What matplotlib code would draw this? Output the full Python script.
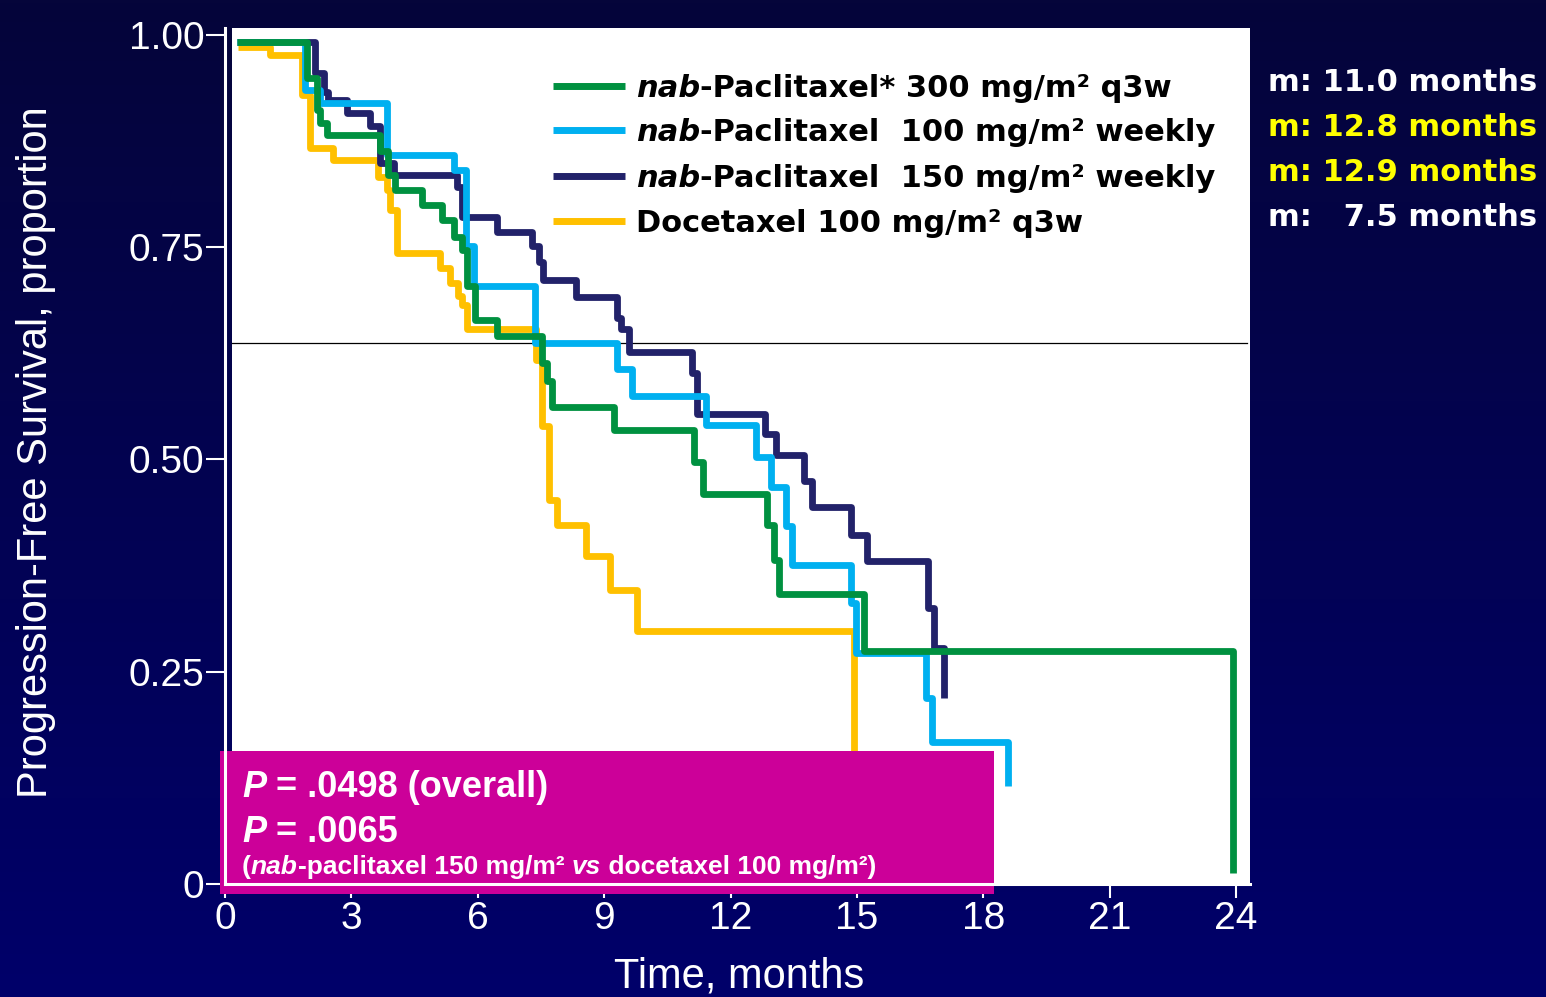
import matplotlib
matplotlib.use("Agg")
import matplotlib.pyplot as plt
import numpy as np
from matplotlib.patches import Rectangle
from matplotlib.lines import Line2D
from matplotlib.colors import LinearSegmentedColormap

# ---- data (months, proportion) ----
t_300q3w = [0.28, 1.94, 2.18, 2.26, 2.43, 3.68, 3.88, 4.04, 4.67, 5.15, 5.43, 5.63, 5.74,
            5.94, 6.46, 7.53, 7.65, 7.76, 9.23, 11.13, 11.35, 12.86, 13.03, 13.15, 15.17, 23.92]
s_300q3w = [0.991, 0.949, 0.912, 0.896, 0.882, 0.863, 0.835, 0.817, 0.799, 0.782, 0.762, 0.746, 0.704,
            0.664, 0.645, 0.613, 0.592, 0.562, 0.535, 0.497, 0.459, 0.423, 0.382, 0.342, 0.274, 0.013]

t_100qw = [0.28, 1.90, 2.26, 3.84, 5.43, 5.73, 5.90, 7.37, 9.31, 9.66, 11.41, 12.60, 12.95,
           13.31, 13.47, 14.85, 14.97, 16.63, 16.79, 18.58]
s_100qw = [0.991, 0.935, 0.920, 0.859, 0.841, 0.751, 0.704, 0.637, 0.607, 0.575, 0.541, 0.503, 0.468,
           0.421, 0.376, 0.331, 0.272, 0.219, 0.167, 0.115]

t_150qw = [0.28, 2.14, 2.34, 2.45, 2.89, 3.45, 3.68, 4.00, 5.51, 5.63, 6.46, 7.29, 7.45, 7.56, 8.32,
           9.31, 9.39, 9.58, 11.09, 11.21, 12.81, 13.07, 13.74, 13.94, 14.85, 15.23, 16.68, 16.83, 17.07]
s_150qw = [0.991, 0.955, 0.933, 0.923, 0.908, 0.893, 0.849, 0.835, 0.821, 0.786, 0.768, 0.751, 0.733, 0.711, 0.691,
           0.666, 0.653, 0.627, 0.602, 0.554, 0.530, 0.505, 0.474, 0.444, 0.411, 0.380, 0.325, 0.278, 0.219]

t_doce = [0.32, 1.07, 1.82, 2.02, 2.57, 3.64, 3.84, 3.92, 4.08, 5.11, 5.35, 5.54, 5.62, 5.74,
          7.39, 7.53, 7.68, 7.88, 8.56, 9.15, 9.79, 14.92]
s_doce = [0.986, 0.976, 0.929, 0.867, 0.853, 0.833, 0.817, 0.794, 0.743, 0.725, 0.708, 0.692, 0.682, 0.653,
          0.617, 0.539, 0.452, 0.423, 0.386, 0.346, 0.298, 0.150]

series_colors = ["#009140", "#00B0F0", "#22226A", "#FFC000"]
legend_parts = [
    [("nab", True), ("-Paclitaxel* 300 mg/m\u00b2 q3w", False)],
    [("nab", True), ("-Paclitaxel  100 mg/m\u00b2 weekly", False)],
    [("nab", True), ("-Paclitaxel  150 mg/m\u00b2 weekly", False)],
    [("Docetaxel 100 mg/m\u00b2 q3w", False)],
]
median_labels = ["m: 11.0 months", "m: 12.8 months", "m: 12.9 months", "m:   7.5 months"]
median_colors = ["white", "#FFFF00", "#FFFF00", "white"]

x_ticks = [0, 3, 6, 9, 12, 15, 18, 21, 24]
y_ticks = [0, 0.25, 0.50, 0.75, 1.00]
y_ticklabels = ["0", "0.25", "0.50", "0.75", "1.00"]
ref_line = 0.637

pval_lines = [
    [("P", True), (" = .0498 (overall)", False)],
    [("P", True), (" = .0065", False)],
    [("(", False), ("nab", True), ("-paclitaxel 150 mg/m\u00b2 ", False), ("vs", True),
     (" docetaxel 100 mg/m\u00b2)", False)],
]

W, H = 1546, 997
def fx(px):
    return px / W
def fy(py):
    return 1 - py / H

narrow = ["Liberation Sans Narrow", "Liberation Sans", "DejaVu Sans"]
wide = ["DejaVu Sans"]

fig = plt.figure(figsize=(W / 100, H / 100), dpi=100)

# background gradient
bg = fig.add_axes([0, 0, 1, 1], zorder=-10)
cmap = LinearSegmentedColormap.from_list("navy", ["#05053a", "#00006a"])
bg.imshow(np.linspace(0, 1, 256).reshape(-1, 1), cmap=cmap, aspect="auto", extent=[0, 1, 0, 1])
bg.axis("off")

ax = fig.add_axes([fx(225), fy(884), (1250 - 225) / W, (884 - 28) / H])
ax.set_facecolor("none")
ax.set_xlim(0, 24.33)
ax.set_ylim(0, 1.008)

# white plot panel, slightly detached from the left axis line
ax.add_patch(Rectangle((0.166, 0), 24.33 - 0.166, 1.008, facecolor="white", edgecolor="none", zorder=0))
ax.axhline(ref_line, xmin=0.166 / 24.33, xmax=24.26 / 24.33, color="black", lw=0.9, zorder=1)

curves = [(t_300q3w, s_300q3w), (t_100qw, s_100qw), (t_150qw, s_150qw), (t_doce, s_doce)]
zorders = [2.15, 2.1, 2.05, 2.0]
for (t, s), c, z in zip(curves, series_colors, zorders):
    ax.step(t, s, where="post", color=c, lw=4.9, zorder=z, solid_capstyle="butt")

for side in ["top", "right"]:
    ax.spines[side].set_visible(False)
for side in ["left", "bottom"]:
    ax.spines[side].set_color("white")
    ax.spines[side].set_linewidth(2.2)

ax.set_xticks(x_ticks)
ax.set_xticklabels([str(v) for v in x_ticks])
ax.set_yticks(y_ticks)
ax.set_yticklabels(y_ticklabels)
ax.tick_params(axis="x", colors="white", length=10, width=1.5, pad=2, labelsize=28)
ax.tick_params(axis="y", colors="white", length=14, width=1.5, pad=1, labelsize=28)
for lab in ax.get_xticklabels() + ax.get_yticklabels():
    lab.set_family(narrow)

# magenta p-value box
ax.add_patch(Rectangle((-0.12, -0.012), 18.37, 0.169, facecolor="#CC0099", edgecolor="none",
                       clip_on=False, zorder=2.3))


def rich_text(x, y, parts, size, family, color):
    s0, it0 = parts[0]
    prev = fig.text(x, y, s0, fontsize=size, family=family, weight="bold",
                    style="italic" if it0 else "normal", color=color, va="baseline", ha="left")
    for s, it in parts[1:]:
        prev = ax.annotate(s, xy=(1, 0), xycoords=prev, va="bottom", ha="left",
                           fontsize=size, family=family, weight="bold",
                           style="italic" if it else "normal", color=color,
                           annotation_clip=False)
    return prev


rich_text(fx(242), fy(797), pval_lines[0], 26, narrow, "white")
rich_text(fx(242), fy(842), pval_lines[1], 26, narrow, "white")
rich_text(fx(242), fy(874), pval_lines[2], 19, narrow, "white")

# legend
leg_centers = [86, 130, 176, 221]
for parts, c, yc in zip(legend_parts, series_colors, leg_centers):
    fig.add_artist(Line2D([fx(553), fx(625)], [fy(yc), fy(yc)], color=c, lw=5,
                          transform=fig.transFigure, solid_capstyle="butt"))
    rich_text(fx(636), fy(yc + 11), parts, 22, wide, "black")

# medians at the right
for i, (lab, c) in enumerate(zip(median_labels, median_colors)):
    fig.text(fx(1268), fy(91 + 45 * i), lab, fontsize=22, family=wide, weight="bold",
             color=c, va="baseline", ha="left")

fig.text(fx(36), fy(452), "Progression-Free Survival, proportion", rotation=90,
         fontsize=30, family=narrow, color="white", ha="center", va="center")
fig.text(fx(739), fy(976), "Time, months", fontsize=30, family=narrow, color="white",
         ha="center", va="center")

fig.savefig("out.png", dpi=100)
